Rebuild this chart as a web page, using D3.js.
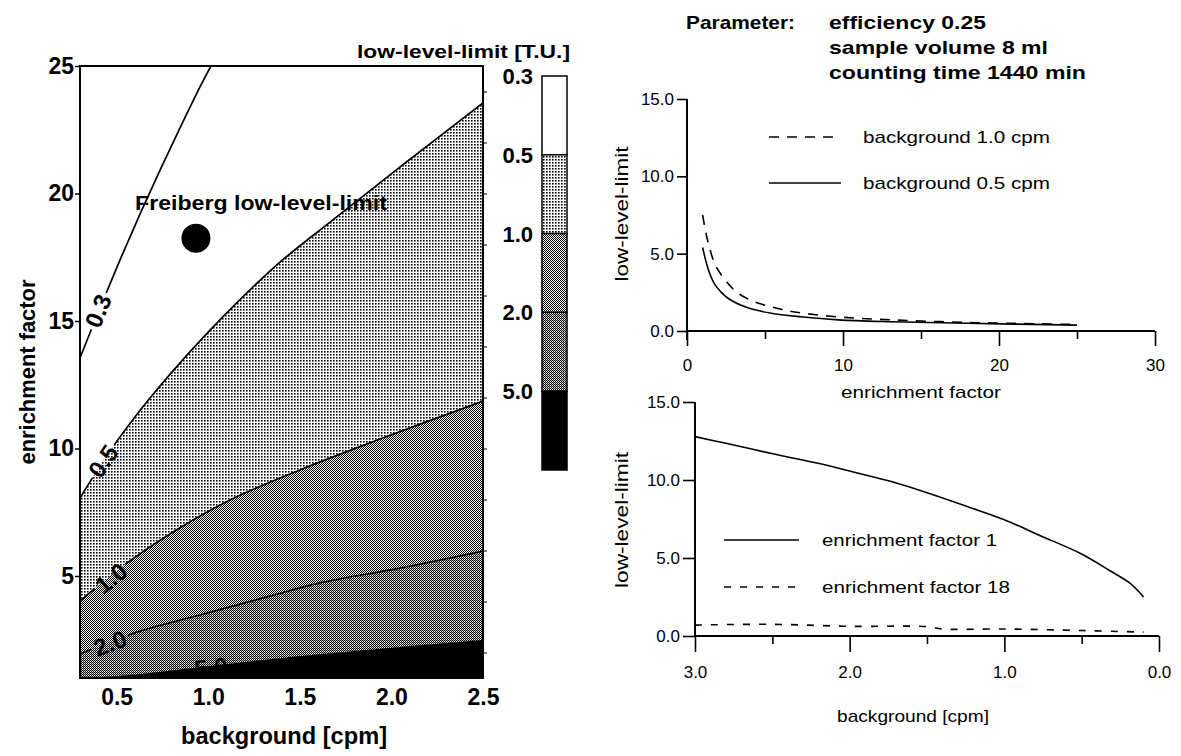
<!DOCTYPE html>
<html><head><meta charset="utf-8">
<script src="https://cdn.jsdelivr.net/npm/d3@7"></script>
<style>
html,body{margin:0;padding:0;background:#fff;}
svg{display:block;font-family:"Liberation Sans",Arial,sans-serif;}
</style></head><body>
<svg id="chart" width="1181" height="756"></svg>
<script>
// ---------------- DATA ----------------
// contour plot: [background cpm, enrichment factor]
const contour03 = [[0.30,13.55],[0.409,15.51],[0.518,17.39],[0.628,19.2],[0.737,20.92],[0.846,22.57],[0.955,24.18],[1.015,25.0]];
const contour05 = [[0.30,8.06],[0.409,9.31],[0.518,10.45],[0.682,11.98],[0.955,14.22],[1.228,16.22],[1.392,17.31],[1.665,18.88],[2.047,21.04],[2.50,23.55]];
const contour10 = [[0.30,4.02],[0.557,5.51],[0.791,6.65],[1.119,7.98],[1.501,9.16],[1.938,10.37],[2.50,11.86]];
const contour20 = [[0.30,1.94],[0.611,2.80],[0.955,3.47],[1.321,4.18],[1.61,4.73],[2.047,5.31],[2.50,5.98]];
const contour50 = [[0.30,1.0],[0.573,1.12],[1.102,1.55],[1.50,1.86],[2.047,2.22],[2.50,2.49]];
const contourLevels = ["0.3","0.5","1.0","2.0","5.0"];
const contourLabelPos = [[0.398,15.4],[0.426,9.51],[0.469,4.92],[0.464,2.37],[1.015,1.43]];
const freibergPoint = [0.933,18.25];
const leftXTicks = [0.5,1.0,1.5,2.0,2.5];
const leftYTicks = [5,10,15,20,25];
const leftYMinor = [2,4,6,8,10,12,14,16,18,20,22,24];

// upper right: [enrichment factor, low-level-limit]
const limitBg10 = [[1.0,7.5],[1.2,6.4],[1.39,5.6],[1.76,4.4],[2.36,3.4],[3.2,2.5],[4.17,1.95],[5.4,1.56],[6.8,1.25],[9.2,0.95],[13.1,0.72],[17.9,0.56],[22.7,0.46],[25.0,0.42]];
const limitBg05 = [[1.0,5.4],[1.27,4.3],[1.5,3.6],[1.76,3.05],[2.2,2.5],[2.72,2.05],[3.9,1.5],[5.4,1.15],[7.3,0.92],[9.7,0.72],[13.1,0.60],[17.9,0.50],[25.0,0.38]];
const topXTicks = [0,10,20,30];
const topXMinor = [5,15,25];
const rightYTicks = [0,5,10,15];

// lower right: [background cpm, low-level-limit]
const limitEf1 = [[3.0,12.78],[2.8,12.35],[2.46,11.6],[2.22,11.1],[1.97,10.5],[1.73,9.9],[1.49,9.15],[1.24,8.3],[1.0,7.45],[0.76,6.4],[0.51,5.3],[0.32,4.2],[0.19,3.4],[0.10,2.5]];
const limitEf18 = [[3.0,0.70],[2.5,0.75],[2.0,0.62],[1.5,0.60],[1.4,0.45],[1.0,0.45],[0.5,0.35],[0.10,0.25]];
const botXTicks = [3,2,1,0];
const botXMinor = [2.5,1.5,0.5];

// ---------------- DRAW ----------------
const svg = d3.select("#chart");
const defs = svg.append("defs");
const smooth = d3.curveCatmullRom.alpha(0.5);

function pat(id, size, cells){
  const p = defs.append("pattern").attr("id",id).attr("patternUnits","userSpaceOnUse")
    .attr("width",size).attr("height",size);
  p.append("rect").attr("width",size).attr("height",size).attr("fill","#fff");
  cells.forEach(c=>p.append("rect").attr("x",c[0]).attr("y",c[1]).attr("width",c[2]).attr("height",c[3]).attr("fill",c[4]));
}
pat("light",3,[[0,0,1.6,1.6,"#000"]]);
pat("medium",2,[[0,0,1,1,"#000"],[1,1,1,1,"#000"]]);
pat("dark",2,[[0,0,1,1,"#000"],[1,1,1,1,"#000"],[1,0,1,1,"#aaa"]]);
const bandFills = ["#fff","url(#light)","url(#medium)","url(#dark)","#000"];

// ---- left contour plot ----
const xL = d3.scaleLinear().domain([0.3,2.5]).range([80,483]);
const yL = d3.scaleLinear().domain([1,25]).range([678,66]);

defs.append("clipPath").attr("id","clipL").append("rect")
  .attr("x",xL.range()[0]).attr("y",yL.range()[1])
  .attr("width",xL.range()[1]-xL.range()[0]).attr("height",yL.range()[0]-yL.range()[1]);

const gL = svg.append("g");
const fills = gL.append("g").attr("clip-path","url(#clipL)");
const area = d3.area().x(d=>xL(d[0])).y0(yL(1)).y1(d=>yL(d[1])).curve(smooth);
[[contour05,1],[contour10,2],[contour20,3],[contour50,4]].forEach(([data,i])=>{
  fills.append("path").attr("d",area(data)).attr("fill",bandFills[i]);
});

// label gaps mask
const mask = defs.append("mask").attr("id","gapMask").attr("maskUnits","userSpaceOnUse")
  .attr("x",0).attr("y",0).attr("width",1181).attr("height",756);
mask.append("rect").attr("width",1181).attr("height",756).attr("fill","#fff");

const lines = [contour03,contour05,contour10,contour20];
const line = d3.line().x(d=>xL(d[0])).y(d=>yL(d[1])).curve(smooth);
const lineG = gL.append("g").attr("clip-path","url(#clipL)").append("g").attr("mask","url(#gapMask)");
lines.forEach(data=>{
  lineG.append("path").attr("d",line(data)).attr("fill","none").attr("stroke","#000").attr("stroke-width",1.7);
});

// contour labels
const allContours = [contour03,contour05,contour10,contour20,contour50];
contourLevels.forEach((lab,i)=>{
  const [bx,ey] = contourLabelPos[i];
  const data = allContours[i];
  let k = 0; while(k<data.length-2 && data[k+1][0]<bx) k++;
  const a = Math.atan2(yL(data[k+1][1])-yL(data[k][1]), xL(data[k+1][0])-xL(data[k][0]))*180/Math.PI;
  const cx = xL(bx), cy = yL(ey);
  const t = gL.append("text").attr("transform",`translate(${cx},${cy}) rotate(${a})`)
    .attr("text-anchor","middle").attr("dy","0.36em")
    .attr("font-size",24).attr("font-weight","bold").attr("fill","#000").text(lab);
  const w = t.node().getComputedTextLength();
  mask.append("rect").attr("x",-w/2-3).attr("y",-10).attr("width",w+6).attr("height",20)
    .attr("transform",`translate(${cx},${cy}) rotate(${a})`).attr("fill","#000");
});

// Freiberg point
gL.append("circle").attr("cx",xL(freibergPoint[0])).attr("cy",yL(freibergPoint[1])).attr("r",14.5).attr("fill","#000");
gL.append("text").attr("x",135).attr("y",210).attr("font-size",20).attr("font-weight","bold")
  .attr("textLength",252).attr("lengthAdjust","spacingAndGlyphs").text("Freiberg low-level-limit");

// frame
gL.append("rect").attr("x",80).attr("y",66).attr("width",403).attr("height",612)
  .attr("fill","none").attr("stroke","#000").attr("stroke-width",2);

// axes
const axL = gL.append("g").attr("transform","translate(80,0)")
  .call(d3.axisLeft(yL).tickValues(leftYTicks).tickFormat(d3.format("d")).tickSize(5).tickPadding(1));
axL.select(".domain").remove();
axL.selectAll("text").attr("font-size",23).attr("font-weight","bold").attr("font-family","Liberation Sans, Arial");
axL.selectAll("line").attr("stroke-width",1.5);
const axR = gL.append("g").attr("transform","translate(483,0)")
  .call(d3.axisRight(yL).tickValues(leftYMinor).tickFormat("").tickSize(4));
axR.select(".domain").remove();
const axB = gL.append("g").attr("transform","translate(0,678)")
  .call(d3.axisBottom(xL).tickValues(leftXTicks).tickFormat(d3.format(".1f")).tickSize(0).tickPadding(11));
axB.select(".domain").remove();
axB.selectAll("text").attr("font-size",23).attr("font-weight","bold").attr("font-family","Liberation Sans, Arial");

gL.append("text").attr("x",284).attr("y",744).attr("text-anchor","middle").attr("font-size",23).attr("font-weight","bold")
  .attr("textLength",206).attr("lengthAdjust","spacingAndGlyphs").text("background  [cpm]");
gL.append("text").attr("transform","translate(35,372) rotate(-90)").attr("text-anchor","middle")
  .attr("font-size",22).attr("font-weight","bold").attr("textLength",185).attr("lengthAdjust","spacingAndGlyphs").text("enrichment factor");

// colorbar
const cb = svg.append("g");
const yCB = d3.scaleBand().domain(contourLevels).range([76,470]);
contourLevels.forEach((lab,i)=>{
  cb.append("rect").attr("x",542).attr("y",yCB(lab)).attr("width",25).attr("height",yCB.bandwidth())
    .attr("fill",bandFills[i]).attr("stroke","#000").attr("stroke-width",1.5);
  cb.append("text").attr("x",533).attr("y",yCB(lab)).attr("dy","0.36em").attr("text-anchor","end")
    .attr("font-size",22).attr("font-weight","bold").text(lab);
});
cb.append("text").attr("x",357).attr("y",58).attr("font-size",18).attr("font-weight","bold")
  .attr("textLength",213).attr("lengthAdjust","spacingAndGlyphs").text("low-level-limit [T.U.]");

// ---- parameter text ----
const pt = svg.append("g").attr("font-size",19).attr("font-weight","bold");
pt.append("text").attr("x",686).attr("y",29).attr("textLength",109).attr("lengthAdjust","spacingAndGlyphs").text("Parameter:");
pt.append("text").attr("x",829).attr("y",29).attr("textLength",157).attr("lengthAdjust","spacingAndGlyphs").text("efficiency 0.25");
pt.append("text").attr("x",829).attr("y",54).attr("textLength",219).attr("lengthAdjust","spacingAndGlyphs").text("sample volume 8 ml");
pt.append("text").attr("x",829).attr("y",79).attr("textLength",257).attr("lengthAdjust","spacingAndGlyphs").text("counting time 1440 min");

// ---- upper right plot ----
const xT = d3.scaleLinear().domain([0,30]).range([687,1155]);
const yT = d3.scaleLinear().domain([0,15]).range([331,99]);
const gT = svg.append("g");
function styleAxis(g, fs){
  g.select(".domain").remove();
  g.selectAll("line").attr("stroke","#000").attr("stroke-width",1.6);
  g.selectAll("text").attr("font-size",fs).attr("font-family","Liberation Sans, Arial").attr("fill","#000");
}
const tY = gT.append("g").attr("transform",`translate(${xT(0)},0)`)
  .call(d3.axisLeft(yT).tickValues(rightYTicks).tickFormat(d3.format(".1f")).tickSize(10).tickPadding(3));
styleAxis(tY,17);
const tX = gT.append("g").attr("transform",`translate(0,${yT(0)})`)
  .call(d3.axisBottom(xT).tickValues(topXTicks).tickFormat(d3.format("d")).tickSize(15).tickPadding(13));
styleAxis(tX,17);
const tXm = gT.append("g").attr("transform",`translate(0,${yT(0)})`)
  .call(d3.axisBottom(xT).tickValues(topXMinor).tickFormat("").tickSize(8));
styleAxis(tXm,17);
gT.append("line").attr("x1",xT(0)).attr("x2",xT(0)).attr("y1",yT(15)).attr("y2",yT(0)+9).attr("stroke","#000").attr("stroke-width",2);
gT.append("line").attr("x1",xT(0)).attr("x2",xT(30)).attr("y1",yT(0)).attr("y2",yT(0)).attr("stroke","#000").attr("stroke-width",2);
const lineT = d3.line().x(d=>xT(d[0])).y(d=>yT(d[1])).curve(smooth);
gT.append("path").attr("d",lineT(limitBg10)).attr("fill","none").attr("stroke","#000").attr("stroke-width",1.6).attr("stroke-dasharray","10,8");
gT.append("path").attr("d",lineT(limitBg05)).attr("fill","none").attr("stroke","#000").attr("stroke-width",1.6);
gT.append("text").attr("x",921).attr("y",398).attr("text-anchor","middle").attr("font-size",17)
  .attr("textLength",160).attr("lengthAdjust","spacingAndGlyphs").text("enrichment factor");
gT.append("text").attr("transform",`translate(628,214) rotate(-90)`).attr("text-anchor","middle").attr("font-size",19)
  .attr("textLength",135).attr("lengthAdjust","spacingAndGlyphs").text("low-level-limit");
// legend
gT.append("line").attr("x1",769).attr("x2",839).attr("y1",137).attr("y2",137).attr("stroke","#000").attr("stroke-width",1.6).attr("stroke-dasharray","10,8");
gT.append("text").attr("x",863).attr("y",137).attr("dy","0.36em").attr("font-size",17)
  .attr("textLength",187).attr("lengthAdjust","spacingAndGlyphs").text("background 1.0 cpm");
gT.append("line").attr("x1",769).attr("x2",841).attr("y1",183).attr("y2",183).attr("stroke","#000").attr("stroke-width",1.6);
gT.append("text").attr("x",863).attr("y",183).attr("dy","0.36em").attr("font-size",17)
  .attr("textLength",187).attr("lengthAdjust","spacingAndGlyphs").text("background 0.5 cpm");

// ---- lower right plot ----
const xB = d3.scaleLinear().domain([3,0]).range([695,1159]);
const yB = d3.scaleLinear().domain([0,15]).range([636,402]);
const gB = svg.append("g");
const bY = gB.append("g").attr("transform",`translate(${xB(3)},0)`)
  .call(d3.axisLeft(yB).tickValues(rightYTicks).tickFormat(d3.format(".1f")).tickSize(12).tickPadding(3));
styleAxis(bY,17);
const bX = gB.append("g").attr("transform",`translate(0,${yB(0)})`)
  .call(d3.axisBottom(xB).tickValues(botXTicks).tickFormat(d3.format(".1f")).tickSize(16).tickPadding(14));
styleAxis(bX,17);
const bXm = gB.append("g").attr("transform",`translate(0,${yB(0)})`)
  .call(d3.axisBottom(xB).tickValues(botXMinor).tickFormat("").tickSize(8));
styleAxis(bXm,17);
gB.append("line").attr("x1",xB(3)).attr("x2",xB(3)).attr("y1",yB(15)).attr("y2",yB(0)).attr("stroke","#000").attr("stroke-width",2);
gB.append("line").attr("x1",xB(3)).attr("x2",xB(0)).attr("y1",yB(0)).attr("y2",yB(0)).attr("stroke","#000").attr("stroke-width",2);
const lineB = d3.line().x(d=>xB(d[0])).y(d=>yB(d[1])).curve(smooth);
gB.append("path").attr("d",lineB(limitEf1)).attr("fill","none").attr("stroke","#000").attr("stroke-width",1.6);
gB.append("path").attr("d",lineB(limitEf18)).attr("fill","none").attr("stroke","#000").attr("stroke-width",1.6).attr("stroke-dasharray","7,9");
gB.append("text").attr("x",913).attr("y",722).attr("text-anchor","middle").attr("font-size",17)
  .attr("textLength",152).attr("lengthAdjust","spacingAndGlyphs").text("background  [cpm]");
gB.append("text").attr("transform",`translate(628,520) rotate(-90)`).attr("text-anchor","middle").attr("font-size",19)
  .attr("textLength",136).attr("lengthAdjust","spacingAndGlyphs").text("low-level-limit");
gB.append("line").attr("x1",724).attr("x2",799).attr("y1",540).attr("y2",540).attr("stroke","#000").attr("stroke-width",1.6);
gB.append("text").attr("x",822).attr("y",540).attr("dy","0.36em").attr("font-size",17)
  .attr("textLength",175).attr("lengthAdjust","spacingAndGlyphs").text("enrichment factor 1");
gB.append("line").attr("x1",724).attr("x2",801).attr("y1",587).attr("y2",587).attr("stroke","#000").attr("stroke-width",1.6).attr("stroke-dasharray","7,9");
gB.append("text").attr("x",822).attr("y",587).attr("dy","0.36em").attr("font-size",17)
  .attr("textLength",188).attr("lengthAdjust","spacingAndGlyphs").text("enrichment factor 18");
</script>
</body></html>
